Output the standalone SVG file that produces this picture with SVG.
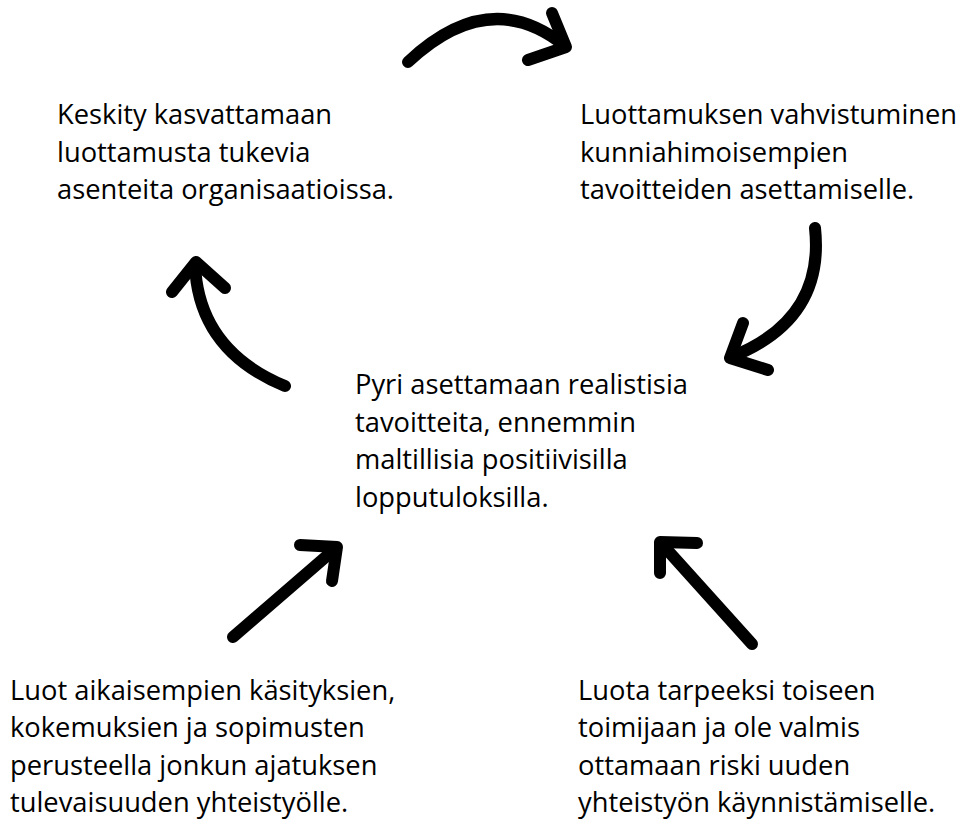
<svg xmlns="http://www.w3.org/2000/svg" width="963" height="820" viewBox="0 0 963 820">
<style>
.t{font-family:"Open Sans","Noto Sans","Liberation Sans",sans-serif;font-size:27.3px;fill:#000}
.a{fill:none;stroke:#000;stroke-width:12;stroke-linecap:round;stroke-linejoin:round}
</style>
<rect width="963" height="820" fill="#fff"/>
<g id="node-tl"><text class="t"><tspan x="57" y="124">Keskity kasvattamaan</tspan><tspan x="57" y="162">luottamusta tukevia</tspan><tspan x="57" y="199">asenteita organisaatioissa.</tspan></text></g>
<g id="node-tr"><text class="t"><tspan x="580" y="124">Luottamuksen vahvistuminen</tspan><tspan x="580" y="162">kunniahimoisempien</tspan><tspan x="580" y="199">tavoitteiden asettamiselle.</tspan></text></g>
<g id="node-center"><text class="t"><tspan x="355" y="394">Pyri asettamaan realistisia</tspan><tspan x="355" y="432">tavoitteita, ennemmin</tspan><tspan x="355" y="469">maltillisia positiivisilla</tspan><tspan x="355" y="507">lopputuloksilla.</tspan></text></g>
<g id="node-bl"><text class="t"><tspan x="10" y="700">Luot aikaisempien käsityksien,</tspan><tspan x="10" y="737">kokemuksien ja sopimusten</tspan><tspan x="10" y="775">perusteella jonkun ajatuksen</tspan><tspan x="10" y="812">tulevaisuuden yhteistyölle.</tspan></text></g>
<g id="node-br"><text class="t"><tspan x="578" y="700">Luota tarpeeksi toiseen</tspan><tspan x="578" y="737">toimijaan ja ole valmis</tspan><tspan x="578" y="775">ottamaan riski uuden</tspan><tspan x="578" y="812">yhteistyön käynnistämiselle.</tspan></text></g>
<g id="connectors">
<path class="a" d="M408 62 Q490 -15 565 46"/>
<path class="a" d="M552 13 L566 47 L528 60"/>
<path class="a" d="M815 228 Q825 320 731 357"/>
<path class="a" d="M743 323 L730 358 L768 370"/>
<path class="a" d="M285 386 Q198 350 195 264"/>
<path class="a" d="M172 292 L196 262 L225 288"/>
<path class="a" d="M233 637 L336 548"/>
<path class="a" d="M300 545 L337 547 L332 581"/>
<path class="a" d="M752 644 L661 543"/>
<path class="a" d="M697 543 L660 542 L660 573"/>
</g>
</svg>
